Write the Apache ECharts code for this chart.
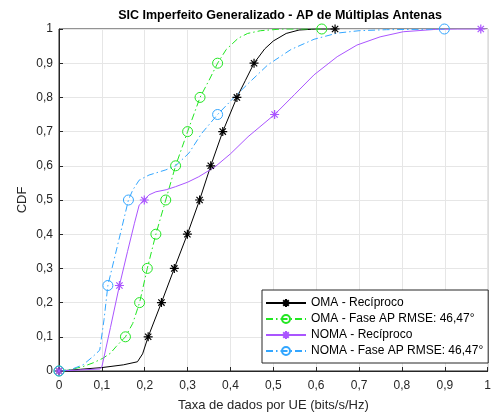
<!DOCTYPE html>
<html><head><meta charset="utf-8">
<script src="https://cdn.jsdelivr.net/npm/echarts@6/dist/echarts.min.js"></script>
<style>html,body{margin:0;padding:0;background:#fff}#c{width:494px;height:417px}</style>
</head><body><div id="c"></div>
<script>
const tickLabels = ['0','0,1','0,2','0,3','0,4','0,5','0,6','0,7','0,8','0,9','1'];
const seriesNames = ['OMA - Recíproco','OMA - Fase AP RMSE: 46,47°','NOMA - Recíproco','NOMA - Fase AP RMSE: 46,47°'];

// OMA - Recíproco
const omaRecX = [0,0.05,0.1,0.15,0.183,0.195,0.208,0.239,0.269,0.2995,0.328,0.354,0.382,0.415,0.435,0.455,0.48,0.5,0.53,0.56,0.6,0.644];
const omaRecY = [0,0.005,0.01,0.018,0.027,0.05,0.1,0.2,0.3,0.4,0.5,0.6,0.7,0.8,0.85,0.9,0.942,0.965,0.987,0.997,1,1];
const omaRecMX = [0,0.208,0.239,0.269,0.2995,0.328,0.354,0.382,0.415,0.455,0.644];
const omaRecMY = [0,0.1,0.2,0.3,0.4,0.5,0.6,0.7,0.8,0.9,1];

// OMA - Fase AP
const omaFaseX = [0,0.03,0.056,0.08,0.102,0.12,0.133,0.145,0.155,0.172,0.188,0.206,0.226,0.249,0.272,0.3,0.329,0.35,0.37,0.39,0.418,0.44,0.47,0.52,0.613];
const omaFaseY = [0,0.005,0.013,0.024,0.037,0.052,0.071,0.087,0.1,0.139,0.2,0.3,0.4,0.5,0.6,0.7,0.8,0.85,0.9,0.94,0.973,0.987,0.995,1,1];
const omaFaseMX = [0,0.155,0.188,0.206,0.226,0.249,0.272,0.3,0.329,0.37,0.613];
const omaFaseMY = [0,0.1,0.2,0.3,0.4,0.5,0.6,0.7,0.8,0.9,1];

// NOMA - Recíproco
const nomaRecX = [0,0.05,0.095,0.1,0.12,0.141,0.16,0.176,0.187,0.199,0.21,0.226,0.25,0.272,0.3,0.326,0.364,0.4,0.441,0.503,0.55,0.595,0.649,0.695,0.749,0.803,0.88,0.93,0.984];
const nomaRecY = [0,0.003,0.006,0.012,0.127,0.25,0.35,0.432,0.485,0.5,0.515,0.524,0.53,0.539,0.552,0.568,0.597,0.635,0.685,0.75,0.809,0.866,0.919,0.953,0.977,0.992,0.999,1,1];
const nomaRecMX = [0,0.141,0.199,0.503,0.984];
const nomaRecMY = [0,0.25,0.5,0.75,1];

// NOMA - Fase AP
const nomaFaseX = [0,0.025,0.056,0.079,0.095,0.105,0.114,0.14,0.162,0.172,0.187,0.21,0.249,0.272,0.303,0.333,0.37,0.41,0.441,0.487,0.541,0.595,0.649,0.7,0.764,0.841,0.899];
const nomaFaseY = [0,0.003,0.018,0.042,0.061,0.15,0.25,0.385,0.5,0.529,0.558,0.573,0.588,0.6,0.637,0.695,0.75,0.802,0.84,0.895,0.94,0.97,0.988,0.995,0.998,0.999,1];
const nomaFaseMX = [0,0.114,0.162,0.37,0.899];
const nomaFaseMY = [0,0.25,0.5,0.75,1];

function merge(cx, cy, mx, my) {
  const pts = cx.map((x,i)=>({value:[x,cy[i]], symbol:'none'}));
  mx.forEach((x,i)=>pts.push({value:[x,my[i]]}));
  pts.sort((a,b)=> (a.value[0]-b.value[0]) || (a.value[1]-b.value[1]));
  return pts;
}

const STAR = 'path://M0,-5L0,5M-5,0L5,0M-3.5,-3.5L3.5,3.5M3.5,-3.5L-3.5,3.5';
const DASHDOT = [7,3,1.5,3];
const colors = ['#000000','#22e622','#aa55ff','#33a6ff'];

function mk(name, data, color, marker, dashed) {
  return {
    name, type:'line', data, showSymbol:true, showAllSymbol:true,
    symbol: marker==='star'?STAR:'circle',
    symbolSize: marker==='star'?9:10,
    lineStyle:{color, width:1, type: dashed?DASHDOT:'solid'},
    itemStyle: marker==='star'
      ? {color, borderColor:color, borderWidth:1.2}
      : {color:'rgba(255,255,255,0)', borderColor:color, borderWidth:1},
    emphasis:{disabled:true},
    z: 2
  };
}

const chart = echarts.init(document.getElementById('c'), null, {renderer:'canvas'});
const font = 'Liberation Sans, Arial, Helvetica, sans-serif';
chart.setOption({
  animation:false,
  backgroundColor:'#fff',
  textStyle:{fontFamily:font},
  title:{text:'SIC Imperfeito Generalizado - AP de Múltiplas Antenas', left:275, top:4, textAlign:'center',
    textStyle:{fontSize:12.5, fontWeight:'bold', color:'#000', fontFamily:font}},
  grid:{left:59, right:2, top:29, bottom:46, show:true, borderColor:'#262626', borderWidth:1, backgroundColor:'#fff'},
  xAxis:{type:'value', min:0, max:1, interval:0.1,
    name:'Taxa de dados por UE (bits/s/Hz)', nameLocation:'middle', nameGap:28, nameMoveOverlap:false,
    nameTextStyle:{fontSize:13, color:'#262626', fontFamily:font},
    axisLine:{lineStyle:{color:'#262626'}}, axisTick:{inside:true, length:4, lineStyle:{color:'#262626'}},
    axisLabel:{fontSize:12, color:'#262626', margin:9, fontFamily:font, formatter:v=>tickLabels[Math.round(v*10)]},
    splitLine:{show:true, lineStyle:{color:'#e6e6e6'}}},
  yAxis:{type:'value', min:0, max:1, interval:0.1,
    name:'CDF', nameLocation:'middle', nameGap:30, nameMoveOverlap:false,
    nameTextStyle:{fontSize:13, color:'#262626', fontFamily:font},
    axisLine:{lineStyle:{color:'#262626'}}, axisTick:{inside:true, length:4, lineStyle:{color:'#262626'}},
    axisLabel:{fontSize:12, color:'#262626', margin:6, fontFamily:font, formatter:v=>tickLabels[Math.round(v*10)]},
    splitLine:{show:true, lineStyle:{color:'#e6e6e6'}}},
  legend:{orient:'vertical', left:262, top:290, itemWidth:40, itemHeight:10, itemGap:4,
    borderColor:'#262626', borderWidth:1, backgroundColor:'#fff', padding:[7,5,6,3],
    textStyle:{fontSize:12, color:'#000', fontFamily:font},
    data:seriesNames},
  series:[
    mk(seriesNames[0], merge(omaRecX,omaRecY,omaRecMX,omaRecMY), colors[0], 'star', false),
    mk(seriesNames[1], merge(omaFaseX,omaFaseY,omaFaseMX,omaFaseMY), colors[1], 'circle', true),
    mk(seriesNames[2], merge(nomaRecX,nomaRecY,nomaRecMX,nomaRecMY), colors[2], 'star', false),
    mk(seriesNames[3], merge(nomaFaseX,nomaFaseY,nomaFaseMX,nomaFaseMY), colors[3], 'circle', true)
  ]
});
</script></body></html>
